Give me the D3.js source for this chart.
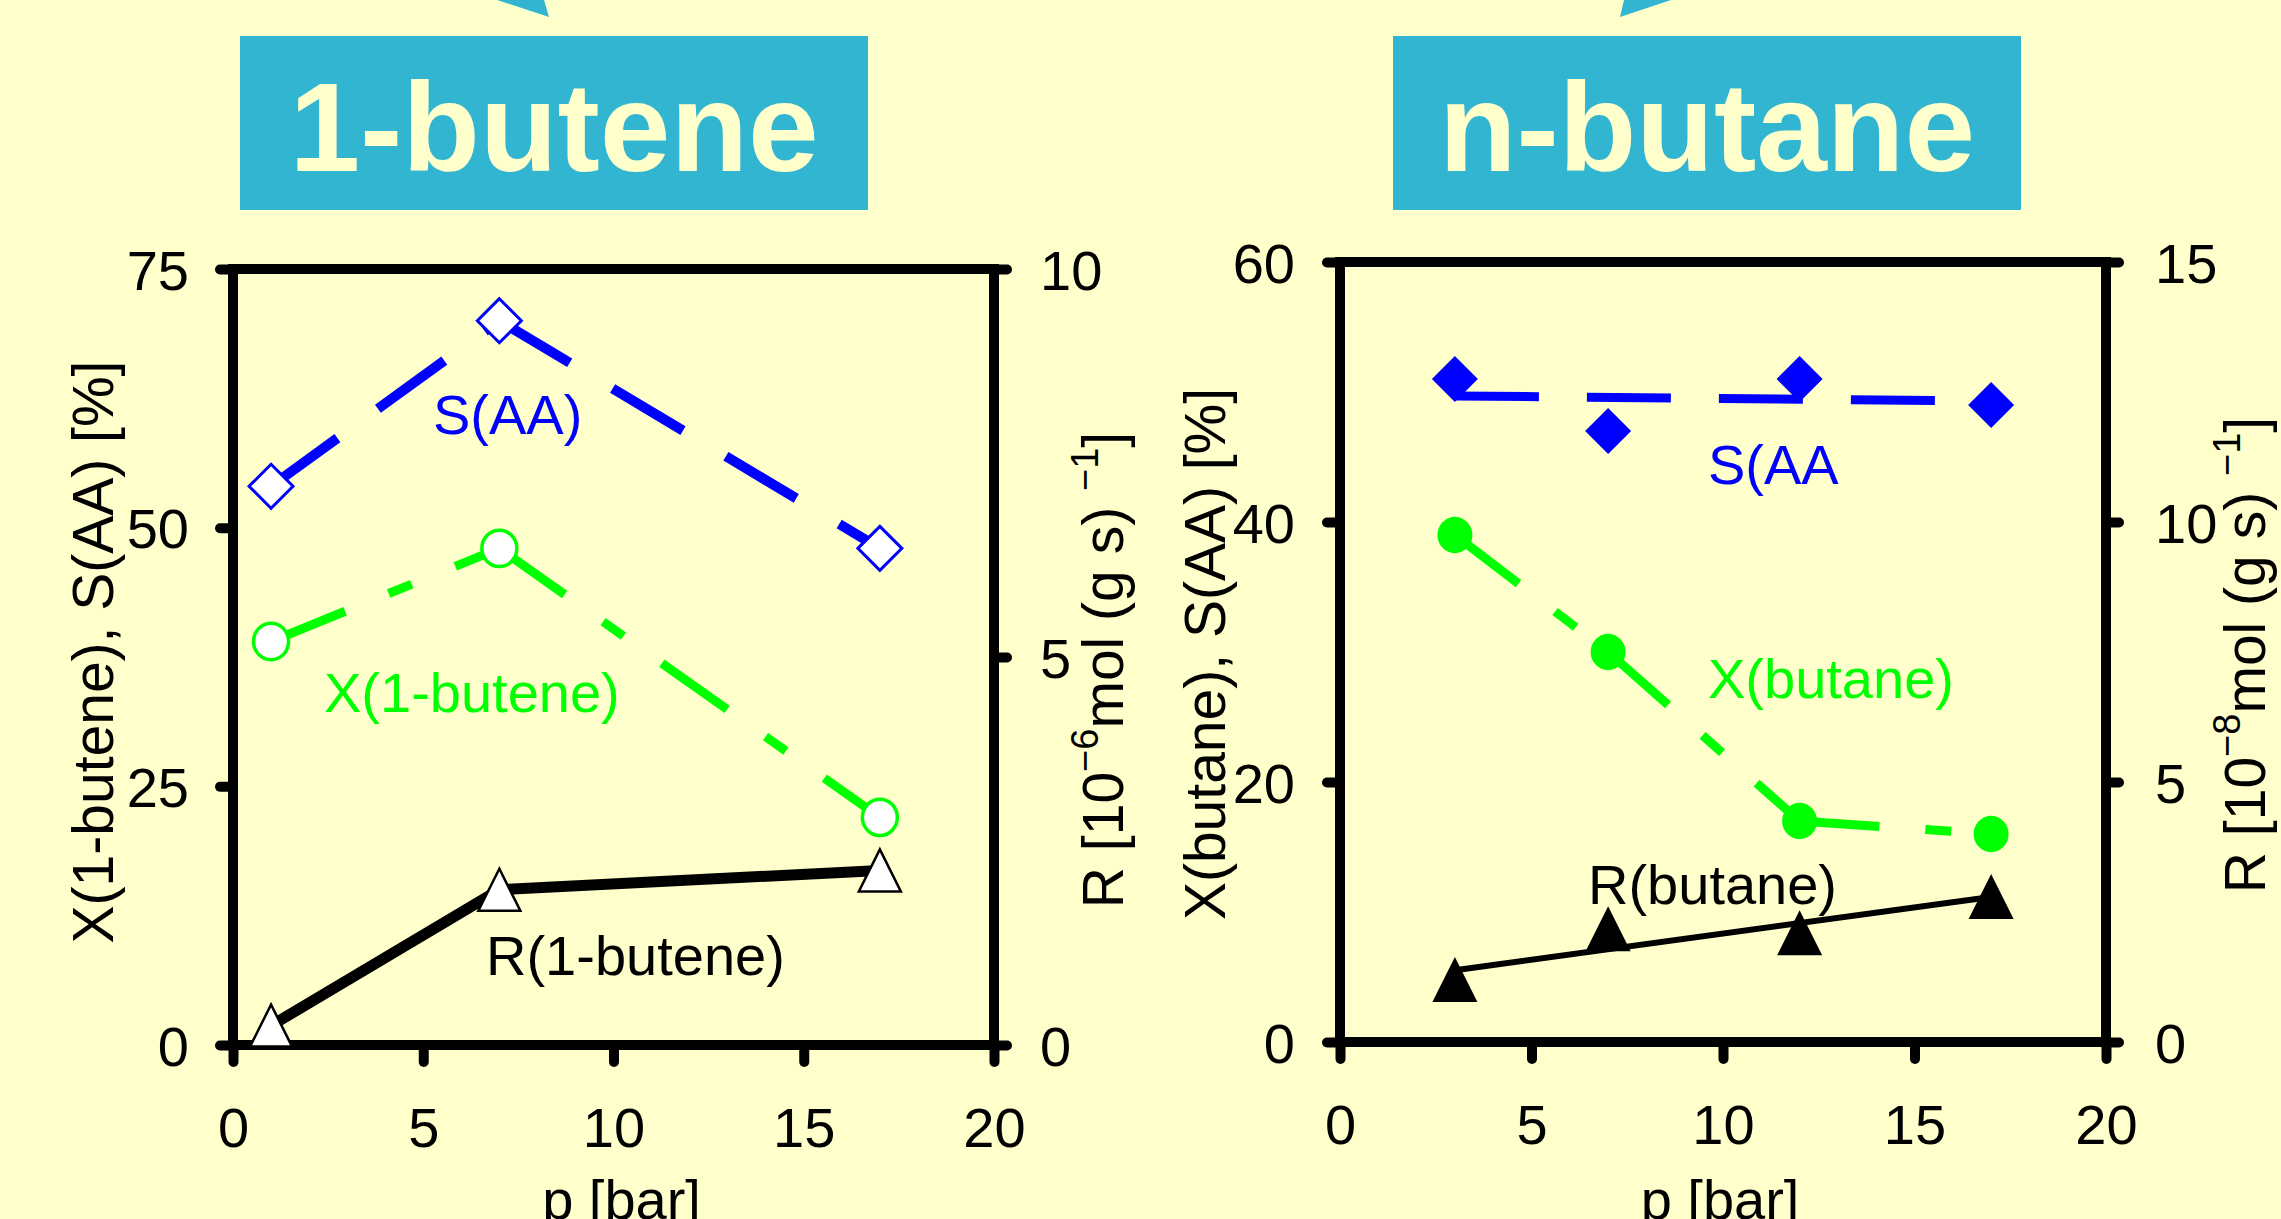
<!DOCTYPE html>
<html><head><meta charset="utf-8">
<script src="https://cdn.jsdelivr.net/npm/d3@7"></script>
<style>
html,body{margin:0;padding:0;background:#FFFFCC;overflow:hidden;}
svg{display:block;}
text{font-family:"Liberation Sans", Arial, sans-serif;}
</style></head><body>
<svg id="c" width="2281" height="1219"></svg>
<script>
// ---------- data ----------
const xTicks = [0, 5, 10, 15, 20];

// panel 1 : 1-butene
const pressure1 = [1, 7, 17];
const selAA1 = [54, 70, 48];          // S(AA) [%]
const conv1Butene = [39, 48, 22];     // X(1-butene) [%]
const rate1Butene = [0.25, 2.0, 2.25]; // R [1e-6 mol/(g s)]
const yTicksL1 = [0, 25, 50, 75];
const yTicksR1 = [0, 5, 10];

// panel 2 : n-butane
const pressure2 = [3, 7, 12, 17];
const selAA2 = [51, 47, 51, 49];
const convButane = [39, 30, 17, 16];
const rateButane = [1.2, 2.18, 2.1, 2.8];  // R [1e-8 mol/(g s)]
const fitPressure2 = [3, 17];
const selAA2Fit = [49.7, 49.3];            // trend line read at p = 3 and 17
const rateButaneFit = [1.38, 2.79];
const yTicksL2 = [0, 20, 40, 60];
const yTicksR2 = [0, 5, 10, 15];

const panelNames = ["1-butene", "n-butane"];
const seriesLabels1 = ["S(AA)", "X(1-butene)", "R(1-butene)"];
const seriesLabels2 = ["S(AA", "X(butane)", "R(butane)"];

// ---------- drawing ----------
const svg = d3.select("#c");
const BG = "#FFFFCC", BOX = "#31B5D0", BLUE = "#0000FF", GREEN = "#00FF00";
svg.append("rect").attr("width", 2281).attr("height", 1219).attr("fill", BG);

// top arrow tips
svg.append("path").attr("d", "M497,0 L544,0 L549,17 Z").attr("fill", BOX);
svg.append("path").attr("d", "M1624,0 L1671,0 L1620,17 Z").attr("fill", BOX);

// title boxes
[[240, 628, panelNames[0]], [1393, 628, panelNames[1]]].forEach(([bx, bw, name]) => {
  svg.append("rect").attr("x", bx).attr("y", 36).attr("width", bw).attr("height", 174).attr("fill", BOX);
  svg.append("text").attr("x", bx + bw / 2).attr("y", 171).attr("text-anchor", "middle")
    .attr("font-size", 127).attr("font-weight", "bold").attr("fill", BG).text(name);
});

function panel(cfg) {
  const g = svg.append("g");
  const x = d3.scaleLinear().domain([0, 20]).range([cfg.x0, cfg.x1]);
  const yL = d3.scaleLinear().domain([0, cfg.yLmax]).range([cfg.yb, cfg.yt]);
  const yR = d3.scaleLinear().domain([0, cfg.yRmax]).range([cfg.yb, cfg.yt]);

  const styleAxis = (sel, dy) => {
    sel.select(".domain").remove();
    sel.selectAll(".tick line").attr("stroke", "#000").attr("stroke-width", 10).attr("stroke-linecap", "round");
    sel.selectAll(".tick text").attr("fill", "#000").attr("font-size", 56).attr("dy", dy)
      .attr("font-family", '"Liberation Sans", Arial, sans-serif');
  };
  g.append("g").attr("transform", `translate(0,${cfg.yb})`)
    .call(d3.axisBottom(x).tickValues(xTicks).tickSize(17).tickPadding(45).tickFormat(d3.format("d")))
    .call(styleAxis, "0.71em");
  g.append("g").attr("transform", `translate(${cfg.x0},0)`)
    .call(d3.axisLeft(yL).tickValues(cfg.yLticks).tickSize(13).tickPadding(cfg.padL).tickFormat(d3.format("d")))
    .call(styleAxis, "0.36em");
  g.append("g").attr("transform", `translate(${cfg.x1},0)`)
    .call(d3.axisRight(yR).tickValues(cfg.yRticks).tickSize(13).tickPadding(cfg.padR).tickFormat(d3.format("d")))
    .call(styleAxis, "0.36em");

  // frame
  g.append("rect").attr("x", cfg.x0).attr("y", cfg.yt).attr("width", cfg.x1 - cfg.x0)
    .attr("height", cfg.yb - cfg.yt).attr("fill", "none").attr("stroke", "#000").attr("stroke-width", 10);

  // axis titles
  g.append("text").attr("transform", `translate(${(cfg.x0 + cfg.x1) / 2 + cfg.pdx},1219) `)
    .attr("text-anchor", "middle").attr("font-size", 56).text("p [bar]");
  g.append("text").attr("transform", `translate(${cfg.tlx},${cfg.tly}) rotate(-90)`)
    .attr("text-anchor", "middle").attr("font-size", 57).text(cfg.leftTitle);
  const rt = g.append("text").attr("transform", `translate(${cfg.trx},${cfg.try}) rotate(-90)`)
    .attr("text-anchor", "middle").attr("font-size", 57);
  rt.append("tspan").text("R [10");
  rt.append("tspan").attr("dy", -25).attr("font-size", 38).text("\u2212" + cfg.exp);
  rt.append("tspan").attr("dy", 25).text("mol (g s) ");
  rt.append("tspan").attr("dy", -25).attr("font-size", 38).text("\u22121");
  rt.append("tspan").attr("dy", 25).text("]");

  // lines
  const seg = (px, py, sy, color, w, dash) => {
    for (let i = 0; i < px.length - 1; i++) {
      g.append("path")
        .attr("d", d3.line()([[x(px[i]), sy(py[i])], [x(px[i + 1]), sy(py[i + 1])]]))
        .attr("stroke", color).attr("stroke-width", w).attr("fill", "none")
        .attr("stroke-dasharray", dash);
    }
  };
  cfg.lines.forEach(l => seg(l.px, l.py, l.sy === "L" ? yL : yR, l.color, l.w, l.dash));

  // markers
  cfg.markers.forEach(m => {
    const sy = m.sy === "L" ? yL : yR;
    m.px.forEach((p, i) => {
      const cx = x(p), cy = sy(m.py[i]);
      const h = m.size / 2;
      let sel;
      if (m.shape === "diamond") {
        sel = g.append("path").attr("d", `M${cx},${cy - h} L${cx + h},${cy} L${cx},${cy + h} L${cx - h},${cy} Z`);
      } else if (m.shape === "triangle") {
        sel = g.append("path").attr("d", `M${cx},${cy - h} L${cx + h},${cy + h} L${cx - h},${cy + h} Z`);
      } else {
        sel = g.append("ellipse").attr("cx", cx).attr("cy", cy).attr("rx", h).attr("ry", h * 1.04);
      }
      sel.attr("fill", m.fill).attr("stroke", m.stroke).attr("stroke-width", m.sw).attr("stroke-linejoin", "miter");
    });
  });

  // series labels
  cfg.labels.forEach(lb => {
    g.append("text").attr("x", lb.x).attr("y", lb.y).attr("font-size", 56).attr("fill", lb.color).text(lb.text);
  });
}

panel({
  x0: 233, x1: 994, yt: 269, yb: 1045, yLmax: 75, yRmax: 10,
  yLticks: yTicksL1, yRticks: yTicksR1, padL: 31, padR: 33, pdx: 8,
  leftTitle: "X(1-butene), S(AA) [%]", tlx: 113, tly: 652,
  exp: "6", trx: 1123, try: 670,
  lines: [
    { px: pressure1, py: selAA1, sy: "L", color: BLUE, w: 10, dash: "82,50" },
    { px: pressure1, py: conv1Butene, sy: "L", color: GREEN, w: 9, dash: "80,47,25,47" },
    { px: pressure1, py: rate1Butene, sy: "R", color: "#000", w: 11, dash: null }
  ],
  markers: [
    { px: pressure1, py: selAA1, sy: "L", shape: "diamond", size: 44, fill: "#fff", stroke: BLUE, sw: 3 },
    { px: pressure1, py: conv1Butene, sy: "L", shape: "circle", size: 35, fill: "#fff", stroke: GREEN, sw: 3.5 },
    { px: pressure1, py: rate1Butene, sy: "R", shape: "triangle", size: 42, fill: "#fff", stroke: "#000", sw: 2.5 }
  ],
  labels: [
    { text: seriesLabels1[0], x: 433, y: 434, color: BLUE },
    { text: seriesLabels1[1], x: 324, y: 712, color: GREEN },
    { text: seriesLabels1[2], x: 486, y: 975, color: "#000" }
  ]
});

panel({
  x0: 1340, x1: 2106, yt: 262, yb: 1042, yLmax: 60, yRmax: 15,
  yLticks: yTicksL2, yRticks: yTicksR2, padL: 32, padR: 36, pdx: -3,
  leftTitle: "X(butane), S(AA) [%]", tlx: 1225, tly: 654,
  exp: "8", trx: 2265, try: 655,
  lines: [
    { px: fitPressure2, py: selAA2Fit, sy: "L", color: BLUE, w: 9, dash: "84,48" },
    { px: pressure2, py: convButane, sy: "L", color: GREEN, w: 9, dash: "80,46,26,46" },
    { px: fitPressure2, py: rateButaneFit, sy: "R", color: "#000", w: 6, dash: null }
  ],
  markers: [
    { px: pressure2, py: selAA2, sy: "L", shape: "diamond", size: 46, fill: BLUE, stroke: "none", sw: 0 },
    { px: pressure2, py: convButane, sy: "L", shape: "circle", size: 35, fill: GREEN, stroke: "none", sw: 0 },
    { px: pressure2, py: rateButane, sy: "R", shape: "triangle", size: 45, fill: "#000", stroke: "none", sw: 0 }
  ],
  labels: [
    { text: seriesLabels2[0], x: 1708, y: 484, color: BLUE },
    { text: seriesLabels2[1], x: 1708, y: 698, color: GREEN },
    { text: seriesLabels2[2], x: 1588, y: 904, color: "#000" }
  ]
});
</script>
</body></html>
